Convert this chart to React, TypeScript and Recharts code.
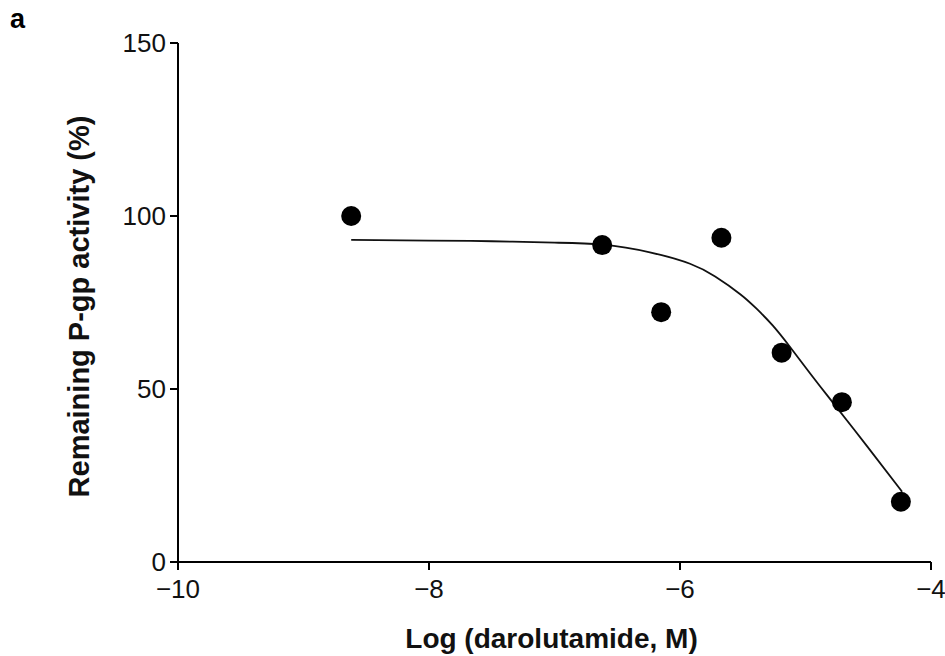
import React from 'react';
import {
  ComposedChart,
  Line,
  Scatter,
  XAxis,
  YAxis,
  Label,
} from 'recharts';

// measured points (log M, % remaining)
const punktX = [-8.62, -6.62, -6.15, -5.67, -5.19, -4.71, -4.24];
const punktY = [100, 91.6, 72.2, 93.7, 60.5, 46.2, 17.4];

// fitted curve
const kurveX = [-8.62, -8.0, -7.5, -7.0, -6.62, -6.24, -5.92, -5.72, -5.52, -5.39, -5.26, -5.12, -4.99, -4.83, -4.51, -4.23];
const kurveY = [93.1, 92.9, 92.7, 92.3, 91.7, 89.5, 86.2, 82.5, 77.4, 73.2, 68.3, 62.0, 55.8, 48.3, 33.5, 20.3];

const xTicks = [-10, -8, -6, -4];
const yTicks = [0, 50, 100, 150];

const punkte = punktX.map((x, i) => ({ x, y: punktY[i] }));
const kurve = kurveX.map((x, i) => ({ x, y: kurveY[i] }));

const schrift = '"Liberation Sans", Arial, Helvetica, sans-serif';
const tickStil = { fill: '#111', fontSize: 26, fontFamily: schrift };
const titelStil = { fontFamily: schrift, fontWeight: 'bold', fontSize: 28, fill: '#111', textAnchor: 'middle' as const };

const minus = (v: number) => String(v).replace('-', '\u2212');

const Punkt = (props: any) => <circle cx={props.cx} cy={props.cy} r={10} fill="#000" />;

export default function App() {
  return (
    <div style={{ position: 'absolute', left: 0, top: 0, width: 945, height: 656, background: '#fff' }}>
      <div
        style={{
          position: 'absolute',
          left: 10,
          top: 4,
          fontFamily: schrift,
          fontWeight: 'bold',
          fontSize: 27,
          color: '#000',
        }}
      >
        a
      </div>
      <ComposedChart width={945} height={656} margin={{ top: 43, right: 14, bottom: 0, left: 0 }}>
        <XAxis
          type="number"
          dataKey="x"
          domain={[-10, -4]}
          ticks={xTicks}
          tickFormatter={minus}
          allowDataOverflow
          height={94}
          tick={tickStil}
          tickSize={8}
          tickMargin={10}
          axisLine={{ stroke: '#000', strokeWidth: 2 }}
          tickLine={{ stroke: '#000', strokeWidth: 2 }}
        >
          <Label value="Log (darolutamide, M)" position="insideBottom" offset={8} dx={-3} style={titelStil} />
        </XAxis>
        <YAxis
          type="number"
          dataKey="y"
          domain={[0, 150]}
          ticks={yTicks}
          width={178}
          tick={tickStil}
          tickSize={8}
          tickMargin={4}
          axisLine={{ stroke: '#000', strokeWidth: 2 }}
          tickLine={{ stroke: '#000', strokeWidth: 2 }}
        >
          <Label
            value="Remaining P-gp activity (%)"
            angle={-90}
            position="center"
            dx={-10}
            dy={4}
            style={{ ...titelStil, fontSize: 29 }}
          />
        </YAxis>
        <Line
          data={kurve}
          dataKey="y"
          type="natural"
          stroke="#111"
          strokeWidth={1.8}
          dot={false}
          activeDot={false}
          isAnimationActive={false}
        />
        <Scatter data={punkte} dataKey="y" shape={Punkt} isAnimationActive={false} />
      </ComposedChart>
    </div>
  );
}
